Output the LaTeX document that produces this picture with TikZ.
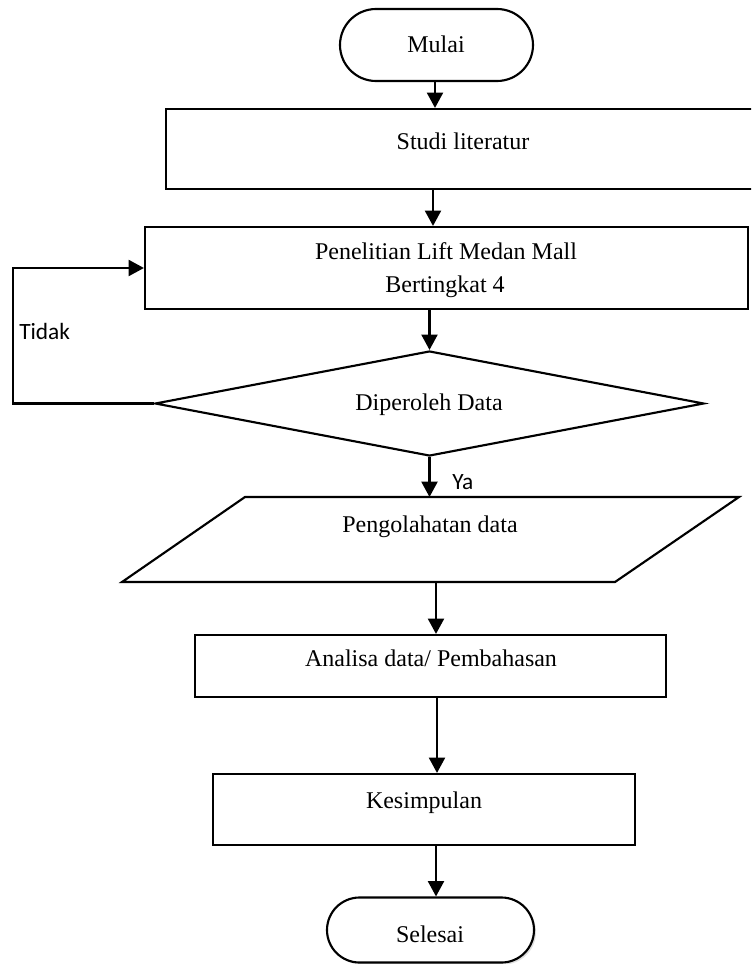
\documentclass[tikz,border=0pt]{standalone}
\usepackage{fontspec}
\setmainfont{Liberation Serif}
\newfontfamily\calibfont{Carlito}
\usetikzlibrary{shapes.geometric,shapes.misc,arrows.meta,shadows}
\begin{document}
\begin{tikzpicture}[x=0.75pt,y=-0.75pt,
  box/.style={draw, line width=1.6pt, rectangle, inner sep=0pt},
  term/.style={draw, line width=1.6pt, rounded rectangle, rounded rectangle arc length=180, inner sep=0pt, fill=white},
  dec/.style={draw, line width=1.6pt, diamond, inner sep=0pt},
  arr/.style={draw, line width=1.6pt, -{Triangle[length=11.5pt,width=12pt]}},
  lbl/.style={font=\fontsize{18}{24.75}\selectfont, inner sep=0pt, text height=11.9pt, text depth=0pt},
  side/.style={font=\calibfont\fontsize{17.5}{21}\selectfont, inner sep=0pt, anchor=west},
]
\path[use as bounding box] (0,0) rectangle (751,964);
\clip (0,0) rectangle (751,964);

% shapes
\node[term, minimum width=144.75pt, minimum height=54pt] (mulai) at (436.5,45) {};
\node[box, minimum width=445.5pt, minimum height=60pt] (studi) at (463,149) {};
\node[box, minimum width=452.25pt, minimum height=61.5pt] (pen) at (446.5,268) {};
\node[dec, minimum width=411.75pt, minimum height=78.75pt] (dec) at (429.5,403.5) {};
\draw[line width=1.6pt] (245,497) -- (739,497) -- (615,582) -- (122,582) -- cycle;
\coordinate (ptop) at (430,497);
\coordinate (pbot) at (436,582);
\node[box, minimum width=353.25pt, minimum height=46.5pt] (ana) at (430.5,666) {};
\node[box, minimum width=316.5pt, minimum height=53.25pt] (kes) at (424,809.5) {};
\node[term, minimum width=155.25pt, minimum height=48.75pt,
      drop shadow={shadow xshift=1.5pt, shadow yshift=-1.5pt, opacity=0.25}] (sel) at (430.5,930) {};

% texts
\node[lbl] (tmulai) at (436,45) {Mulai};
\node[lbl] (tstudi) at (463,142) {Studi literatur};
\node[lbl] (tpen1) at (446,252) {Penelitian Lift Medan Mall};
\node[lbl] (tpen2) at (445,285) {Bertingkat 4};
\node[lbl] (tdec) at (429,403) {Diperoleh Data};
\node[lbl] (tpara) at (430,525) {Pengolahatan data};
\node[lbl] (tana) at (431,659) {Analisa data/ Pembahasan};
\node[lbl] (tkes) at (424,801) {Kesimpulan};
\node[lbl] (tsel) at (430,935) {Selesai};
\node[side] (tidak) at (19,331) {Tidak};
\node[side] (ya) at (452,482) {Ya};

% connectors
\coordinate (xa) at (435,0);
\coordinate (xb) at (433,0);
\coordinate (xc) at (437,0);
\coordinate (xd) at (436,0);
\coordinate (lp) at (13,268);
\draw[arr] (mulai.south -| xa) -- (studi.north -| xa);
\draw[arr] (studi.south -| xb) -- (pen.north -| xb);
\draw[arr] (pen.south -| dec.north) -- (dec.north);
\draw[arr] (dec.west) -| (lp) -- (pen.west);
\draw[arr] (dec.south) -- (dec.south |- ptop);
\draw[arr] (pbot) -- (pbot |- ana.north);
\draw[arr] (ana.south -| xc) -- (kes.north -| xc);
\draw[arr] (kes.south -| xd) -- (sel.north -| xd);
\end{tikzpicture}
\end{document}
